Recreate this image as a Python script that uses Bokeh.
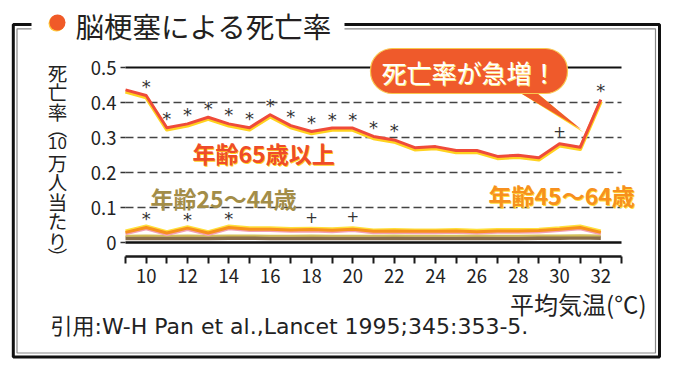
from bokeh.plotting import figure
from bokeh.models import Range1d, FixedTicker, Label, BoxAnnotation, PolyAnnotation, ColumnDataSource
from bokeh.embed import file_html
from bokeh.resources import INLINE
from bokeh.core.properties import value

# ---------------- data ----------------
temps = list(range(9, 33))  # mean temperature (°C)
rate_65 = [0.436, 0.420, 0.328, 0.339, 0.358, 0.339, 0.328, 0.365, 0.334, 0.317, 0.327, 0.327,
           0.303, 0.293, 0.271, 0.274, 0.263, 0.263, 0.246, 0.249, 0.242, 0.282, 0.272, 0.408]
rate_45 = [0.029, 0.043, 0.027, 0.041, 0.027, 0.043, 0.038, 0.038, 0.036, 0.037, 0.035, 0.038,
           0.032, 0.033, 0.032, 0.032, 0.033, 0.031, 0.033, 0.033, 0.034, 0.038, 0.043, 0.029]
rate_25 = [0.012, 0.013, 0.012, 0.013, 0.012, 0.013, 0.013, 0.012, 0.012, 0.013, 0.012, 0.012,
           0.012, 0.013, 0.012, 0.012, 0.012, 0.013, 0.012, 0.012, 0.013, 0.013, 0.014, 0.013]
sig_65 = ["", "*", "*", "*", "*", "*", "*", "*", "*", "*", "*", "*",
          "*", "*", "", "", "", "", "", "", "", "+", "", "*"]
sig_45 = ["", "*", "", "*", "", "*", "", "", "", "+", "", "+",
          "", "", "", "", "", "", "", "", "", "", "", ""]
x_major = [10, 12, 14, 16, 18, 20, 22, 24, 26, 28, 30, 32]
x_minor = [9, 11, 13, 15, 17, 19, 21, 23, 25, 27, 29, 31, 33]
y_ticks = [0, 0.1, 0.2, 0.3, 0.4, 0.5]
y_tick_labels = ["0", "0.1", "0.2", "0.3", "0.4", "0.5"]
grid_ticks = [0.1, 0.2, 0.3, 0.4]
solid_ticks = [0, 0.5]
x_axis_at = -0.04

title_text = "脳梗塞による死亡率"
y_title_chars = ["死", "亡", "率", "︵", "10", "万", "人", "当", "た", "り", "︶"]
x_title = "平均気温(°C)"
note_text = "引用:W-H Pan et al.,Lancet 1995;345:353-5."
label_65 = "年齢65歳以上"
label_25 = "年齢25～44歳"
label_45 = "年齢45～64歳"
callout_text = "死亡率が急増！"

FONT = "Noto Sans CJK JP"
WIDE_FONT = "'DejaVu Sans', 'Noto Sans CJK JP'"

# ---------------- geometry (page pixels) ----------------
W, H = 679, 370
X_LO, X_HI = x_minor[0], x_minor[-1]
PX_LO, PX_HI = 125, 621          # page x of X_LO / X_HI
PY0, PY05 = 242, 67              # page y of 0 and 0.5
kx = (PX_HI - PX_LO) / (X_HI - X_LO)
ky = (PY0 - PY05) / 0.5
x_range = Range1d(X_LO - PX_LO / kx, X_HI + (W - PX_HI) / kx)
y_range = Range1d(-(H - PY0) / ky, PY0 / ky)

p = figure(width=W, height=H, x_range=x_range, y_range=y_range,
           output_backend="svg", toolbar_location=None, min_border=0,
           min_border_left=0, min_border_right=0, min_border_top=0, min_border_bottom=0)
p.outline_line_color = None
p.background_fill_color = "white"
p.border_fill_color = "white"
p.grid.visible = False

def sx(X):
    return X
def sy(Y):
    return H - Y

# axes (fixed inside the frame)
xa = p.xaxis[0]
xa.fixed_location = x_axis_at
xa.bounds = (X_LO, X_HI)
xa.ticker = FixedTicker(ticks=x_major, minor_ticks=x_minor)
xa.axis_line_width = 2.5
xa.axis_line_color = "#1a1a1a"
xa.major_tick_line_width = 2
xa.minor_tick_line_width = 2
xa.major_tick_line_color = "#1a1a1a"
xa.minor_tick_line_color = "#1a1a1a"
xa.major_tick_in = 0
xa.minor_tick_in = 0
xa.major_tick_out = 7
xa.minor_tick_out = 7
xa.major_label_standoff = 5
xa.major_label_text_font = FONT
xa.major_label_text_font_size = "18.5px"
xa.major_label_text_color = "#222"

ya = p.yaxis[0]
ya.fixed_location = X_LO
ya.bounds = (0, 0.5)
ya.ticker = FixedTicker(ticks=y_ticks)
ya.major_label_overrides = dict(zip(y_ticks, y_tick_labels))
ya.axis_line_color = None
ya.minor_tick_line_color = None
ya.major_tick_in = 0
ya.major_tick_out = 5
ya.major_tick_line_width = 1.5
ya.major_tick_line_color = "#333"
ya.major_label_standoff = 4
ya.major_label_text_font = FONT
ya.major_label_text_font_size = "18.5px"
ya.major_label_text_color = "#222"

# grid lines
p.segment(x0=[X_LO] * len(grid_ticks), y0=grid_ticks, x1=[X_HI] * len(grid_ticks), y1=grid_ticks,
          line_color="#444", line_width=1.3, line_dash="8 4")
p.segment(x0=[X_LO] * 2, y0=solid_ticks, x1=[X_HI] * 2, y1=solid_ticks,
          line_color="#111", line_width=[2.5, 2])

# ---------------- series ----------------
src = ColumnDataSource(dict(
    t=temps,
    r65=rate_65, r65s=[v - 0.005 for v in rate_65],
    r45=rate_45, r45u=[v + 0.004 for v in rate_45], r45d=[v - 0.004 for v in rate_45],
    r25=rate_25, r25u=[v + 0.007 for v in rate_25],
))
p.line("t", "r25", source=src, line_color="#8a6d4b", line_width=4)
p.line("t", "r25u", source=src, line_color="#d2bf5a", line_width=2)
p.line("t", "r45d", source=src, line_color="#f3a1b4", line_width=3)
p.line("t", "r45u", source=src, line_color="#ffe03a", line_width=3)
p.line("t", "r45", source=src, line_color="#f7901e", line_width=3)
p.line("t", "r65s", source=src, line_color="#ffd21f", line_width=4, line_join="round")
p.line("t", "r65", source=src, line_color="#ef4b3a", line_width=3, line_join="round")

ax, ay, px_, py_ = [], [], [], []
for t, v, s in list(zip(temps, rate_65, sig_65)) + list(zip(temps, rate_45, sig_45)):
    if s == "*":
        ax.append(t); ay.append(v)
    elif s == "+":
        px_.append(t); py_.append(v)
p.text(x=ax, y=ay, text=["*"] * len(ax), text_font=value("DejaVu Sans"), text_font_size="18px",
       text_align="center", text_baseline="middle", y_offset=-9, text_color="#333")
p.text(x=px_, y=py_, text=["+"] * len(px_), text_font=value("DejaVu Sans"), text_font_size="15px",
       text_align="center", text_baseline="middle", y_offset=-13, text_color="#333")

# ---------------- decorations ----------------
def box(l, r, t, b, **kw):
    return BoxAnnotation(left=sx(l), right=sx(r), top=sy(t), bottom=sy(b),
                         left_units="screen", right_units="screen", top_units="screen", bottom_units="screen",
                         **kw)

p.add_layout(box(12.8, 659, 24, 356.5, fill_color=None, line_color="#111", line_width=3, line_alpha=1))
p.add_layout(box(16.5, 655, 28.3, 352.5, fill_color=None, line_color="#888", line_width=1.2, line_alpha=1))
p.add_layout(box(31, 344, 16, 36, fill_color="white", fill_alpha=1, line_color=None))

p.add_layout(box(48, 64, 15, 31, fill_color="#ffc93c", fill_alpha=1, line_color=None, border_radius=8))
p.add_layout(box(49, 65, 14, 30, fill_color="#f05a28", fill_alpha=1, line_color=None, border_radius=8))

def lab(X, Y, text, size, color, align="left", baseline="middle", style="normal", font=FONT, **kw):
    return Label(x=sx(X), y=sy(Y), x_units="screen", y_units="screen", text=text,
                 text_font=font, text_font_size=f"{size}px", text_color=color,
                 text_align=align, text_baseline=baseline, text_font_style=style, **kw)

p.add_layout(lab(75, 25, title_text, 28.5, "#231f20"))

# vertical y-axis title, one character per cell
cursor = 62.0
for ch in y_title_chars:
    h = 12.0 if ch in ("︵", "︶") else 19.5
    p.add_layout(lab(57, cursor + h / 2, ch, 17 if ch == "10" else 19.5, "#222", align="center"))
    cursor += h

p.add_layout(lab(646, 303, x_title, 24, "#222", align="right"))
p.add_layout(lab(50, 326, note_text, 22, "#222", font=WIDE_FONT))

p.add_layout(lab(193, 153.5, label_65, 23, "#ffd21f", style="bold"))
p.add_layout(lab(192, 152, label_65, 23, "#ef4b2a", style="bold"))
p.add_layout(lab(150, 197, label_25, 23, "#a38d48", style="bold"))
p.add_layout(lab(489, 195, label_45, 23, "#ffe03a", style="bold"))
p.add_layout(lab(488, 194, label_45, 23, "#f7901e", style="bold"))

p.add_layout(PolyAnnotation(xs=[sx(516), sx(534), sx(583)], ys=[sy(90), sy(90), sy(132)],
                            xs_units="screen", ys_units="screen",
                            fill_color="#ffd21f", fill_alpha=1, line_color=None))
p.add_layout(PolyAnnotation(xs=[sx(514), sx(532), sx(581)], ys=[sy(89), sy(89), sy(129)],
                            xs_units="screen", ys_units="screen",
                            fill_color="#ef5a2b", fill_alpha=1, line_color=None))
p.add_layout(box(370, 567, 48, 93, fill_color="#ef5a2b", fill_alpha=1,
                 line_color="#f9c74f", line_width=1.2, line_alpha=1, border_radius=22))
p.add_layout(lab(469.5, 72, callout_text, 25, "#ffe680", align="center"))
p.add_layout(lab(468.5, 71, callout_text, 25, "white", align="center"))

open("out.html", "w").write(file_html(p, INLINE))
